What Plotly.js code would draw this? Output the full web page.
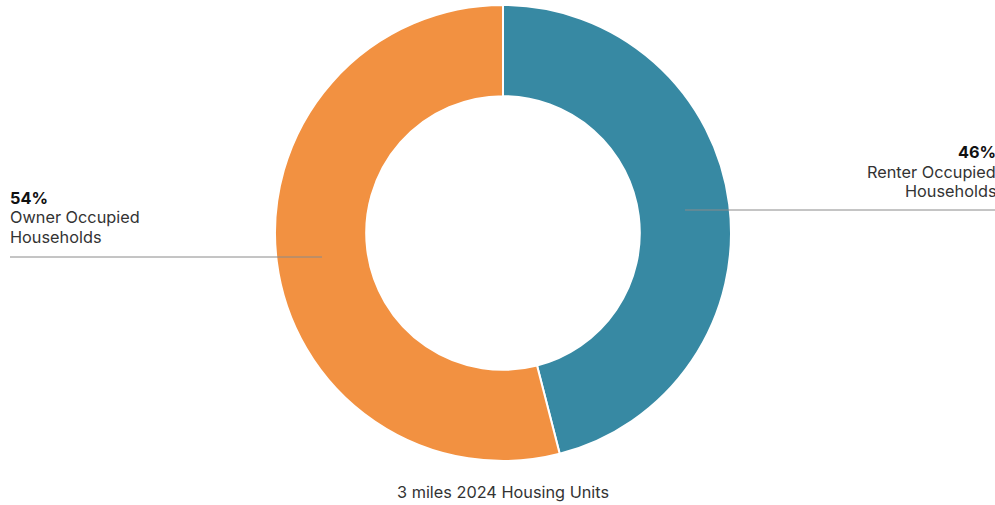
<!DOCTYPE html>
<html>
<head>
<meta charset="utf-8">
<script src="https://cdn.plot.ly/plotly-3.0.1.min.js"></script>
<style>html,body{margin:0;padding:0;background:#fff;}#chart{width:995px;height:505px;}</style>
</head>
<body>
<div id="chart"></div>
<script>
var categories = ["Renter Occupied Households", "Owner Occupied Households"];
var labelLines = [["Renter Occupied", "Households"], ["Owner Occupied", "Households"]];
var values = [46, 54];
var colors = ["#3789A3", "#F29141"];
var chartTitle = "3 miles 2024 Housing Units";

var W = 995, H = 505;
var cx = 503, cy = 233, R = 228;

var trace = {
  type: "pie",
  labels: categories,
  values: values,
  hole: 0.6,
  sort: false,
  direction: "clockwise",
  rotation: 0,
  marker: {colors: colors, line: {color: "#ffffff", width: 2}},
  textinfo: "none",
  hoverinfo: "label+percent",
  domain: {x: [(cx - R) / W, (cx + R) / W], y: [1 - (cy + R) / H, 1 - (cy - R) / H]}
};

var font = {family: "Inter, 'Open Sans', sans-serif", size: 16.3, color: "#333333"};
var boldFont = {family: "Inter, 'Open Sans', sans-serif", size: 16.3, color: "#111111"};
var lineGap = 19.5;

function labelBlock(idx, xPx, topPx, anchor) {
  var out = [];
  out.push({xref: "paper", yref: "paper", x: xPx / W, y: 1 - topPx / H, xanchor: anchor, yanchor: "middle",
    showarrow: false, font: boldFont, text: "<b>" + values[idx] + "%</b>"});
  labelLines[idx].forEach(function (t, i) {
    out.push({xref: "paper", yref: "paper", x: xPx / W, y: 1 - (topPx + lineGap * (i + 1)) / H, xanchor: anchor,
      yanchor: "middle", showarrow: false, font: font, text: t});
  });
  return out;
}

var annotations = []
  .concat(labelBlock(1, 8, 198, "left"))
  .concat(labelBlock(0, 998, 152, "right"))
  .concat([{xref: "paper", yref: "paper", x: 503 / W, y: 1 - 492 / H, xanchor: "center", yanchor: "middle",
    showarrow: false, font: font, text: chartTitle}]);

var shapes = [
  {type: "line", xref: "paper", yref: "paper", x0: 10 / W, x1: 322 / W, y0: 1 - 257 / H, y1: 1 - 257 / H,
   line: {color: "#8a8a8a", width: 1}},
  {type: "line", xref: "paper", yref: "paper", x0: 685 / W, x1: 1, y0: 1 - 210 / H, y1: 1 - 210 / H,
   line: {color: "#8a8a8a", width: 1}}
];

var layout = {
  width: W, height: H,
  margin: {l: 0, r: 0, t: 0, b: 0},
  showlegend: false,
  paper_bgcolor: "#ffffff",
  plot_bgcolor: "#ffffff",
  font: font,
  annotations: annotations,
  shapes: shapes
};

Plotly.newPlot("chart", [trace], layout, {displayModeBar: false, staticPlot: true});
</script>
</body>
</html>
